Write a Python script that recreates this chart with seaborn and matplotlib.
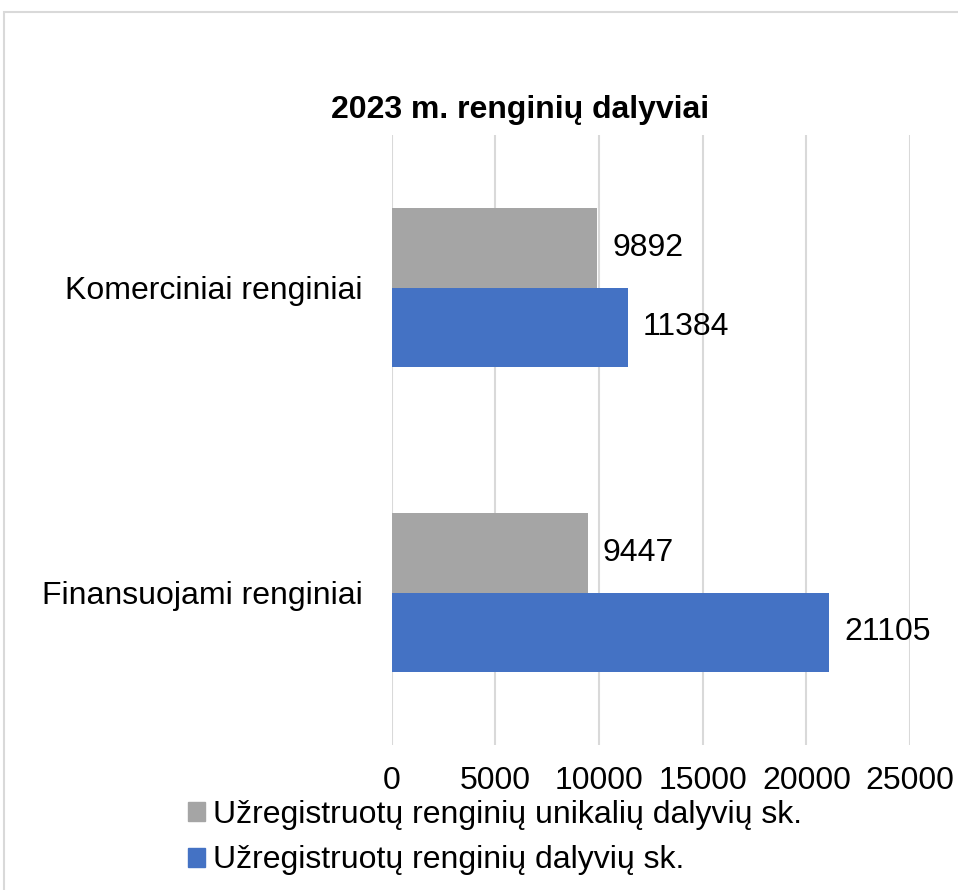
import matplotlib
matplotlib.use("Agg")
import matplotlib.pyplot as plt
import matplotlib.patches as mpatches
import seaborn as sns
import pandas as pd

categories = ["Komerciniai renginiai", "Finansuojami renginiai"]
series_names = ["Užregistruotų renginių unikalių dalyvių sk.",
                "Užregistruotų renginių dalyvių sk."]
unique_vals = [9892, 9447]
total_vals = [11384, 21105]
colors = ["#A5A5A5", "#4472C4"]
x_ticks = [0, 5000, 10000, 15000, 20000, 25000]

df = pd.DataFrame({
    "kategorija": categories * 2,
    "serija": [series_names[0]] * 2 + [series_names[1]] * 2,
    "reiksme": unique_vals + total_vals,
})

sns.set_theme(style="white")
plt.rcParams["font.family"] = ["Liberation Sans", "DejaVu Sans"]
plt.rcParams["text.color"] = "black"
plt.rcParams["xtick.color"] = "black"
plt.rcParams["ytick.color"] = "black"

fig = plt.figure(figsize=(9.58, 8.9), dpi=100)
ax = fig.add_axes([0.409, 0.163, 0.541, 0.685])

sns.barplot(data=df, x="reiksme", y="kategorija", hue="serija", orient="h",
            palette=colors, width=0.52, saturation=1, linewidth=0, ax=ax, legend=False)

for c in ax.containers:
    ax.bar_label(c, fmt="%d", padding=11, fontsize=23, color="black")

ax.set_xlim(0, 25000)
ax.set_ylim(1.5, -0.5)
ax.set_xticks(x_ticks)
ax.set_xticklabels([str(t) for t in x_ticks], fontsize=23)
ax.tick_params(axis="x", length=0, pad=15)
ax.tick_params(axis="y", length=0, pad=21, labelsize=23)
ax.set_xlabel("")
ax.set_ylabel("")
ax.grid(axis="x", color="#D9D9D9", linewidth=1.5)
ax.set_axisbelow(True)
for s in ax.spines.values():
    s.set_visible(False)

fig.text(0.543, 0.876, "2023 m. renginių dalyviai", ha="center", va="center",
         fontsize=23, fontweight="bold", color="black")

handles = [mpatches.Patch(color=colors[i], label=series_names[i]) for i in range(2)]
fig.legend(handles=handles, loc="center left", bbox_to_anchor=(0.196, 0.059),
           frameon=False, fontsize=23, handlelength=0.55, handleheight=0.55,
           handletextpad=0.25, labelspacing=0.5, borderaxespad=0, borderpad=0)

border = mpatches.Rectangle((0.004, -0.05), 1.2, 1.0365, transform=fig.transFigure,
                            fill=False, edgecolor="#D9D9D9", linewidth=1.5)
fig.patches.append(border)

fig.savefig("out.png", dpi=100)
